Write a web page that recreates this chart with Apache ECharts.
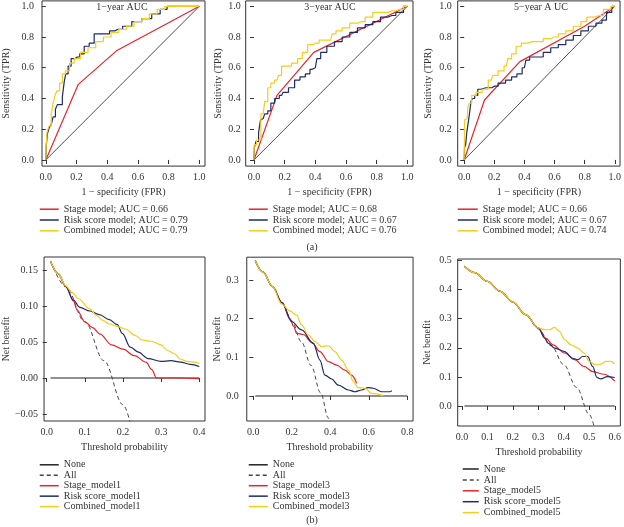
<!DOCTYPE html>
<html>
<head>
<meta charset="utf-8">
<script src="https://cdn.jsdelivr.net/npm/echarts@6.0.0/dist/echarts.min.js"></script>
<style>
html,body{margin:0;padding:0;background:#fff;}
#chart{width:624px;height:527px;}
</style>
</head>
<body>
<div id="chart"></div>
<script>
// ---------- tick values ----------
const rocTicks = [0, 0.2, 0.4, 0.6, 0.8, 1.0];
const dca1XTicks = [0, 0.1, 0.2, 0.3, 0.4];
const dca1YTicks = [-0.05, 0, 0.05, 0.10, 0.15];
const dca3XTicks = [0, 0.2, 0.4, 0.6, 0.8];
const dca3YTicks = [0, 0.1, 0.2, 0.3];
const dca5XTicks = [0, 0.1, 0.2, 0.3, 0.4, 0.5, 0.6];
const dca5YTicks = [0, 0.1, 0.2, 0.3, 0.4, 0.5];

// ---------- ROC curves [FPR, TPR] ----------
const diagonal = [[0, 0], [1, 1]];
const rocStage1 = [[0,0],[0.21,0.49],[0.46,0.71],[1,1]];
const rocRisk1 = [[0,0],[0.005,0.09],[0.015,0.17],[0.03,0.21],[0.04,0.23],[0.055,0.28],[0.07,0.33],[0.08,0.36],[0.1,0.36],[0.115,0.41],[0.125,0.51],[0.135,0.56],[0.155,0.61],[0.175,0.66],[0.205,0.67],[0.235,0.69],[0.265,0.74],[0.3,0.76],[0.33,0.82],[0.4,0.82],[0.43,0.84],[0.47,0.85],[0.53,0.87],[0.59,0.9],[0.66,0.92],[0.72,0.95],[0.77,0.98],[0.81,1],[1,1]];
const rocComb1 = [[0,0],[0.005,0.1],[0.01,0.18],[0.03,0.22],[0.04,0.3],[0.055,0.37],[0.065,0.42],[0.08,0.45],[0.1,0.5],[0.115,0.56],[0.14,0.58],[0.17,0.63],[0.2,0.66],[0.25,0.7],[0.3,0.73],[0.35,0.77],[0.4,0.8],[0.45,0.83],[0.5,0.85],[0.55,0.87],[0.6,0.9],[0.65,0.92],[0.7,0.95],[0.75,0.98],[0.8,1],[1,1]];

const rocStage3 = [[0,0],[0.15,0.42],[0.39,0.70],[1,1]];
const rocRisk3 = [[0,0],[0.005,0.08],[0.02,0.12],[0.04,0.18],[0.045,0.26],[0.06,0.27],[0.08,0.3],[0.1,0.32],[0.12,0.37],[0.15,0.4],[0.18,0.42],[0.2,0.44],[0.25,0.47],[0.28,0.52],[0.32,0.54],[0.35,0.56],[0.38,0.59],[0.4,0.6],[0.42,0.66],[0.45,0.7],[0.5,0.74],[0.55,0.77],[0.6,0.8],[0.65,0.83],[0.7,0.86],[0.75,0.88],[0.8,0.9],[0.85,0.93],[0.9,0.94],[0.95,0.96],[1,1]];
const rocComb3 = [[0,0],[0.003,0.1],[0.03,0.13],[0.06,0.3],[0.08,0.38],[0.1,0.47],[0.12,0.5],[0.15,0.52],[0.17,0.55],[0.19,0.61],[0.22,0.61],[0.27,0.63],[0.3,0.66],[0.33,0.7],[0.37,0.75],[0.4,0.76],[0.45,0.78],[0.5,0.78],[0.52,0.82],[0.55,0.84],[0.6,0.86],[0.65,0.89],[0.7,0.9],[0.75,0.93],[0.8,0.96],[0.85,0.96],[0.9,0.97],[0.95,0.98],[1,1]];

const rocStage5 = [[0,0],[0.135,0.39],[0.37,0.64],[0.8,0.87],[1,1]];
const rocRisk5 = [[0,0],[0.005,0.08],[0.015,0.1],[0.02,0.18],[0.03,0.23],[0.04,0.3],[0.05,0.38],[0.06,0.4],[0.08,0.42],[0.1,0.46],[0.12,0.47],[0.17,0.47],[0.2,0.48],[0.25,0.5],[0.3,0.52],[0.33,0.54],[0.37,0.56],[0.4,0.6],[0.42,0.65],[0.45,0.67],[0.5,0.67],[0.55,0.7],[0.6,0.73],[0.65,0.75],[0.7,0.78],[0.75,0.81],[0.8,0.84],[0.85,0.87],[0.9,0.89],[0.93,0.91],[0.96,0.96],[1,1]];
const rocComb5 = [[0,0],[0.005,0.26],[0.02,0.27],[0.03,0.35],[0.04,0.37],[0.06,0.42],[0.1,0.44],[0.14,0.46],[0.18,0.52],[0.2,0.55],[0.25,0.58],[0.28,0.61],[0.3,0.66],[0.33,0.69],[0.36,0.74],[0.4,0.76],[0.45,0.77],[0.5,0.77],[0.55,0.79],[0.6,0.8],[0.65,0.82],[0.7,0.84],[0.75,0.87],[0.8,0.9],[0.83,0.93],[0.9,0.94],[0.95,0.98],[1,1]];

// ---------- decision curves [threshold, net benefit] ----------
const none1 = [[0.01,0],[0.4,0]];
const all1 = [[0.01,0.162],[0.05,0.127],[0.1,0.078],[0.15,0.024],[0.2,-0.037],[0.22,-0.064]];
const dcaStage1 = [[0.01,0.162],[0.03,0.145],[0.05,0.127],[0.07,0.107],[0.08,0.094],[0.1,0.078],[0.12,0.07],[0.14,0.061],[0.17,0.046],[0.2,0.04],[0.23,0.031],[0.26,0.022],[0.275,0.012],[0.288,0],[0.3,0],[0.35,0],[0.4,-0.001]];
const dcaRisk1 = [[0.01,0.162],[0.03,0.145],[0.05,0.127],[0.07,0.108],[0.087,0.098],[0.113,0.093],[0.138,0.088],[0.164,0.081],[0.185,0.074],[0.198,0.062],[0.219,0.043],[0.24,0.036],[0.266,0.027],[0.3,0.023],[0.325,0.024],[0.351,0.022],[0.376,0.019],[0.4,0.016]];
const dcaComb1 = [[0.01,0.162],[0.03,0.145],[0.05,0.128],[0.066,0.119],[0.083,0.11],[0.113,0.096],[0.13,0.087],[0.147,0.08],[0.164,0.075],[0.189,0.071],[0.206,0.068],[0.232,0.059],[0.249,0.053],[0.274,0.051],[0.3,0.046],[0.317,0.038],[0.334,0.034],[0.351,0.026],[0.368,0.023],[0.4,0.0204]];

const none3 = [[0.01,0],[0.8,0]];
const all3 = [[0.01,0.35],[0.05,0.321],[0.1,0.283],[0.15,0.241],[0.2,0.194],[0.25,0.14],[0.3,0.079],[0.35,0.008],[0.39,-0.057],[0.4,-0.075]];
const dcaStage3 = [[0.01,0.35],[0.05,0.321],[0.1,0.283],[0.15,0.241],[0.19,0.2],[0.21,0.18],[0.225,0.162],[0.26,0.159],[0.303,0.139],[0.346,0.115],[0.39,0.089],[0.433,0.08],[0.476,0.067],[0.51,0.054],[0.537,0.033]];
const dcaRisk3 = [[0.01,0.35],[0.05,0.321],[0.1,0.283],[0.15,0.241],[0.2,0.192],[0.251,0.171],[0.312,0.136],[0.346,0.093],[0.372,0.054],[0.407,0.044],[0.442,0.028],[0.494,0.0155],[0.528,0.011],[0.563,0.0155],[0.597,0.0216],[0.623,0.02],[0.667,0.011],[0.71,0.011],[0.72,0.014]];
const dcaComb3 = [[0.01,0.35],[0.05,0.321],[0.1,0.283],[0.147,0.238],[0.19,0.22],[0.225,0.209],[0.251,0.184],[0.286,0.158],[0.32,0.141],[0.355,0.128],[0.39,0.13],[0.424,0.115],[0.459,0.093],[0.494,0.067],[0.52,0.037],[0.545,0.0216],[0.58,0.02],[0.615,0.007],[0.675,0.001]];

const none5 = [[0.01,0],[0.6,0]];
const all5 = [[0.01,0.48],[0.05,0.458],[0.1,0.428],[0.15,0.394],[0.2,0.357],[0.25,0.314],[0.3,0.265],[0.35,0.208],[0.4,0.142],[0.45,0.064],[0.5,-0.029],[0.52,-0.073]];
const dca5Start = [[0.01,0.48],[0.05,0.458],[0.1,0.428],[0.15,0.394],[0.2,0.357],[0.25,0.314],[0.3,0.268]];
const dcaStage5 = [[0.33,0.232],[0.357,0.21],[0.403,0.182],[0.442,0.159],[0.48,0.136],[0.513,0.118],[0.558,0.109],[0.6,0.086]];
const dcaRisk5 = [[0.325,0.233],[0.338,0.216],[0.364,0.199],[0.403,0.187],[0.435,0.164],[0.455,0.159],[0.474,0.17],[0.494,0.17],[0.513,0.136],[0.53,0.098],[0.545,0.093],[0.571,0.101],[0.6,0.098]];
const dcaComb5 = [[0.325,0.262],[0.344,0.262],[0.364,0.27],[0.383,0.256],[0.403,0.228],[0.429,0.21],[0.455,0.199],[0.48,0.182],[0.5,0.153],[0.526,0.141],[0.545,0.144],[0.565,0.153],[0.584,0.153],[0.6,0.145]];

// ---------- legend names ----------
const rocNames1 = ['Stage model; AUC = 0.66','Risk score model; AUC = 0.79','Combined model; AUC = 0.79'];
const rocNames3 = ['Stage model; AUC = 0.68','Risk score model; AUC = 0.67','Combined model; AUC = 0.76'];
const rocNames5 = ['Stage model; AUC = 0.66','Risk score model; AUC = 0.67','Combined model; AUC = 0.74'];
const dcaNames1 = ['None','All','Stage_model1','Risk score_model1','Combined_model1'];
const dcaNames3 = ['None','All','Stage_model3','Risk score_model3','Combined_model3'];
const dcaNames5 = ['None','All','Stage_model5','Risk score_model5','Combined_model5'];

// ---------- styling ----------
const F = "'Liberation Serif', 'DejaVu Serif', serif";
const RED = '#e8242a', BLUE = '#1d2b6b', YEL = '#f6cd1a', BLK = '#222222', TXT = '#333333';

const panels = [
  {grid:{left:41.9, top:0.9, width:163.1, height:165.2}, x:[-0.025,1.037], y:[-0.04,1.035], xt:rocTicks, yt:rocTicks, xd:1, yd:1, xn:'1 − specificity (FPR)', yn:'Sensitivity (TPR)', yGap:31, yMargin:8, xGap:21},
  {grid:{left:245.7, top:0.9, width:167.3, height:165.2}, x:[-0.054,1.037], y:[-0.04,1.035], xt:rocTicks, yt:rocTicks, xd:1, yd:1, xn:'1 − specificity (FPR)', yn:'Sensitivity (TPR)', yGap:22, yMargin:5, xGap:21},
  {grid:{left:457.7, top:0.9, width:165.4, height:165.2}, x:[-0.043,1.035], y:[-0.04,1.035], xt:rocTicks, yt:rocTicks, xd:1, yd:1, xn:'1 − specificity (FPR)', yn:'Sensitivity (TPR)', yGap:24.5, yMargin:6, xGap:21},
  {grid:{left:39.25, top:257, width:165.75, height:164}, x:[-0.007,0.4148], y:[-0.0597,0.168], xt:dca1XTicks, yt:dca1YTicks, xd:1, yd:2, xn:'Threshold probability', yn:'Net benefit', yGap:29, yMargin:6, xGap:21},
  {grid:{left:246.75, top:257.2, width:166.3, height:163.8}, x:[-0.034,0.83], y:[-0.0647,0.359], xt:dca3XTicks, yt:dca3YTicks, xd:1, yd:1, xn:'Threshold probability', yn:'Net benefit', yGap:22, yMargin:8, xGap:21},
  {grid:{left:457.7, top:259, width:165, height:167}, x:[-0.0166,0.622], y:[-0.0687,0.505], xt:dca5XTicks, yt:dca5YTicks, xd:1, yd:1, xn:'Threshold probability', yn:'Net benefit', yGap:25, yMargin:6, xGap:21}
];

function fmt(d) {
  return v => (Math.abs(v) < 1e-9 ? 0 : v).toFixed(d).replace('-', '−');
}

const grids = [], xAxes = [], yAxes = [];
panels.forEach((p, i) => {
  grids.push(Object.assign({show:true, borderColor:'#333', borderWidth:1, backgroundColor:'transparent'}, p.grid));
  xAxes.push({
    type:'value', gridIndex:i, min:p.x[0], max:p.x[1],
    name:p.xn, nameLocation:'middle', nameGap:p.xGap,
    nameTextStyle:{fontFamily:F, fontSize:10, color:TXT},
    axisLine:{show:false}, splitLine:{show:false},
    axisTick:{show:true, length:4, lineStyle:{color:'#333'}, customValues:p.xt},
    axisLabel:{fontFamily:F, fontSize:10, color:TXT, margin:6, customValues:p.xt, formatter:fmt(p.xd)}
  });
  yAxes.push({
    type:'value', gridIndex:i, min:p.y[0], max:p.y[1],
    name:p.yn, nameLocation:'middle', nameGap:p.yGap,
    nameTextStyle:{fontFamily:F, fontSize:10, color:TXT},
    axisLine:{show:false}, splitLine:{show:false},
    axisTick:{show:true, length:4, lineStyle:{color:'#333'}, customValues:p.yt},
    axisLabel:{fontFamily:F, fontSize:10, color:TXT, margin:p.yMargin, customValues:p.yt, formatter:fmt(p.yd)}
  });
});

const series = [];
function addLine(idx, name, data, color, opts) {
  series.push(Object.assign({
    type:'line', name:name, data:data, xAxisIndex:idx, yAxisIndex:idx,
    symbol:'none', showSymbol:false, animation:false, silent:true,
    color:color, lineStyle:{color:color, width:1.2}
  }, opts || {}));
}

const rocSets = [
  [rocStage1, rocRisk1, rocComb1, rocNames1],
  [rocStage3, rocRisk3, rocComb3, rocNames3],
  [rocStage5, rocRisk5, rocComb5, rocNames5]
];
rocSets.forEach((s, i) => {
  addLine(i, 'diag' + i, diagonal, BLK, {lineStyle:{color:BLK, width:0.8}});
  addLine(i, s[3][0], s[0], RED);
  addLine(i, s[3][1], s[1], BLUE, {step:'middle'});
  addLine(i, s[3][2], s[2], YEL, {step:'middle'});
});

const dcaSets = [
  [none1, all1, dcaStage1, dcaRisk1, dcaComb1, dcaNames1],
  [none3, all3, dcaStage3, dcaRisk3, dcaComb3, dcaNames3],
  [none5, all5, dca5Start.concat(dcaStage5), dca5Start.concat(dcaRisk5), dca5Start.concat(dcaComb5), dcaNames5]
];
dcaSets.forEach((s, k) => {
  const i = k + 3;
  const sm = {smooth:0.35, smoothMonotone:'x'};
  addLine(i, s[5][0], s[0], BLK, {lineStyle:{color:BLK, width:1}});
  addLine(i, s[5][1], s[1], '#444', Object.assign({lineStyle:{color:'#444', width:1, type:[4,3]}}, sm));
  addLine(i, s[5][2], s[2], RED, sm);
  addLine(i, s[5][3], s[3], BLUE, sm);
  addLine(i, s[5][4], s[4], YEL, sm);
});

function legend(left, top, names, gap, iw) {
  return {
    orient:'vertical', left:left, top:top, data:names, selectedMode:false,
    padding:0, itemWidth:iw || 19, itemHeight:8, itemGap:gap,
    itemStyle:{opacity:0},
    lineStyle:{width:1.5},
    textStyle:{fontFamily:F, fontSize:10, color:TXT, lineHeight:10}
  };
}
const legends = [
  legend(39, 204.2, rocNames1, 0.8),
  legend(248, 204.2, rocNames3, 0.8),
  legend(457, 204.2, rocNames5, 0.8, 20),
  legend(39, 459.8, dcaNames1, 0.45),
  legend(248, 459.8, dcaNames3, 0.45),
  legend(462, 464, dcaNames5, 0.9, 16)
];

function label(x, y, text) {
  return {type:'text', x:x, y:y, silent:true,
    style:{text:text, fontFamily:F, fontSize:10, fill:TXT, align:'center', verticalAlign:'middle', textAlign:'center', textVerticalAlign:'middle'}};
}

const chart = echarts.init(document.getElementById('chart'), null, {renderer:'canvas'});
chart.setOption({
  animation:false,
  backgroundColor:'#fff',
  grid:grids, xAxis:xAxes, yAxis:yAxes, series:series, legend:legends,
  graphic:[
    label(122, 7, '1−year AUC'),
    label(330, 7, '3−year AUC'),
    label(541, 7, '5−year A UC'),
    label(312, 247.5, '(a)'),
    label(312, 520, '(b)')
  ]
});
</script>
</body>
</html>
